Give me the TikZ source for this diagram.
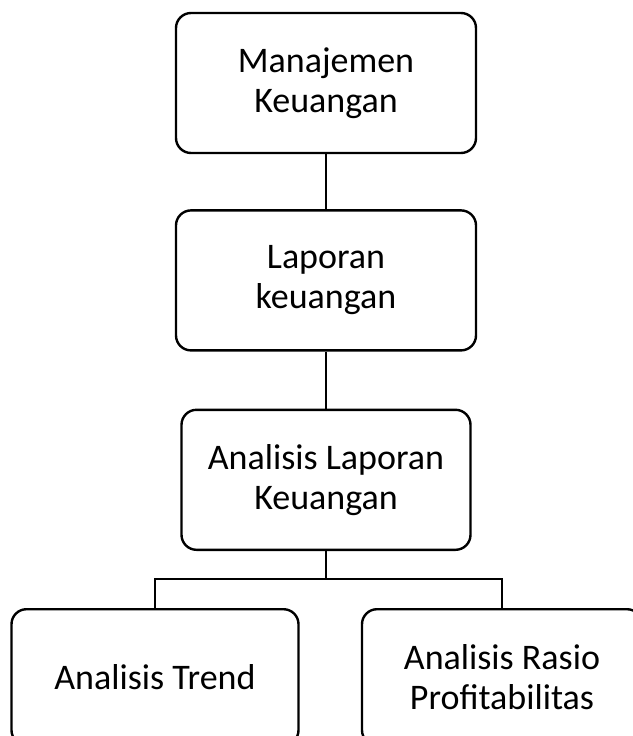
\documentclass[tikz,border=0pt]{standalone}
\usepackage{fontspec}
\setmainfont{Carlito}
\usepackage{tikz}
\usetikzlibrary{positioning}

\begin{document}
\begin{tikzpicture}[-,line width=2.4pt,
	main node/.style={draw, rounded corners=15pt, align=center, inner sep=0pt,
		minimum height=140pt, font=\fontsize{36}{40}\selectfont},
	sub node/.style={main node, minimum height=136pt}]

	\useasboundingbox (0,0) rectangle (632pt,-736pt);

	\node[main node, minimum width=300pt](MK) at (326pt,-83pt){Manajemen\\Keuangan};
	\node[main node, minimum width=300pt](LK)[below = 55pt of MK]{Laporan\\keuangan};
	\node[main node, minimum width=289pt](ALK)[below = 57pt of LK]{Analisis Laporan\\Keuangan};
		\coordinate[below = 28pt of ALK.south](split);
	\node[sub node, minimum width=287pt](AT)[below = 57pt of ALK, xshift=-171pt]{Analisis Trend};
	\node[sub node, minimum width=280pt](AR)[below = 57pt of ALK, xshift=176pt]{Analisis Rasio\\Profitabilitas};

	\draw (MK.south)--(LK.north);
	\draw (LK.south)--(ALK.north);
	\draw (ALK.south)--(split) -| (AT.north);
	\draw (split) -| (AR.north);
\end{tikzpicture}
\end{document}
